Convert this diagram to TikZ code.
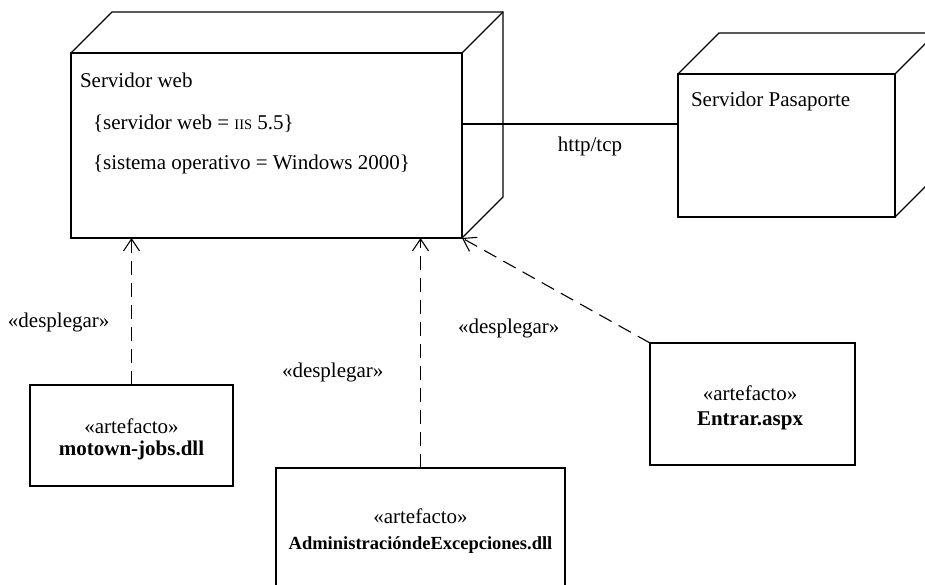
\documentclass[tikz,border=0pt]{standalone}
\usepackage{fontspec}
\setmainfont{Liberation Serif}
\usetikzlibrary{arrows.meta}
\begin{document}
\begin{tikzpicture}[x=1pt,y=-1pt, line width=1.1pt,
  every node/.style={inner sep=0pt, outer sep=0pt, font=\fontsize{21}{25}\selectfont},
  box/.style={draw, anchor=north west},
  lbl/.style={anchor=base west},
  ctr/.style={anchor=base},
  dep/.style={dash pattern=on 14pt off 8pt, -{Straight Barb[length=12pt,width=16pt]}}]
\clip (0,0) rectangle (925,585);
% Servidor web node (3D box)
\node[box, minimum width=391pt, minimum height=185pt] (web) at (71,53) {};
\draw (web.north west) -- ++(41,-41) -- ++(391,0) -- ++(0,185) -- (web.south east);
\draw (web.north east) -- ++(41,-41);
% Servidor Pasaporte node (3D box)
\node[box, minimum width=217pt, minimum height=143pt] (pas) at (678,74) {};
\draw (pas.north west) -- ++(41,-41) -- ++(217,0) -- ++(0,143) -- (pas.south east);
\draw (pas.north east) -- ++(41,-41);
% link
\coordinate (cy) at (0,124);
\draw (web.east |- cy) -- (pas.west |- cy);
\node[ctr] (http) at (590,152) {http/tcp};
% texts in nodes
\node[lbl] (webname) at (80,88) {Servidor web};
\node[lbl] (webp1) at (93,130) {\{servidor web = {\fontsize{14.5}{15}\selectfont IIS} 5.5\}};
\node[lbl] (webp2) at (93,170) {\{sistema operativo = Windows 2000\}};
\node[lbl] (pasname) at (691,107) {Servidor Pasaporte};
% artifacts
\node[box, minimum width=203pt, minimum height=101pt] (motown) at (30,385) {};
\node[ctr] (m1) at (131.5,433) {«artefacto»};
\node[ctr] (m2) at (131.5,455) {\bfseries motown-jobs.dll};
\node[box, minimum width=289pt, minimum height=140pt] (adm) at (276,468) {};
\node[ctr] (a1) at (420.5,523) {«artefacto»};
\node[ctr] (a2) at (420.5,549) {\fontsize{18.5}{20}\selectfont\bfseries AdministracióndeExcepciones.dll};
\node[box, minimum width=205pt, minimum height=122pt] (ent) at (650,343) {};
\node[ctr] (e1) at (750,400) {«artefacto»};
\node[ctr] (e2) at (750,425) {\bfseries Entrar.aspx};
% dependencies
\draw[dep] (motown.north) -- (motown.north |- web.south);
\draw[dep] (adm.north) -- (adm.north |- web.south);
\draw[dep] (ent.north west) -- (web.south east);
\node[lbl] (d1) at (8,327) {«desplegar»};
\node[lbl] (d2) at (282,377) {«desplegar»};
\node[lbl] (d3) at (458,333) {«desplegar»};
\end{tikzpicture}
\end{document}
